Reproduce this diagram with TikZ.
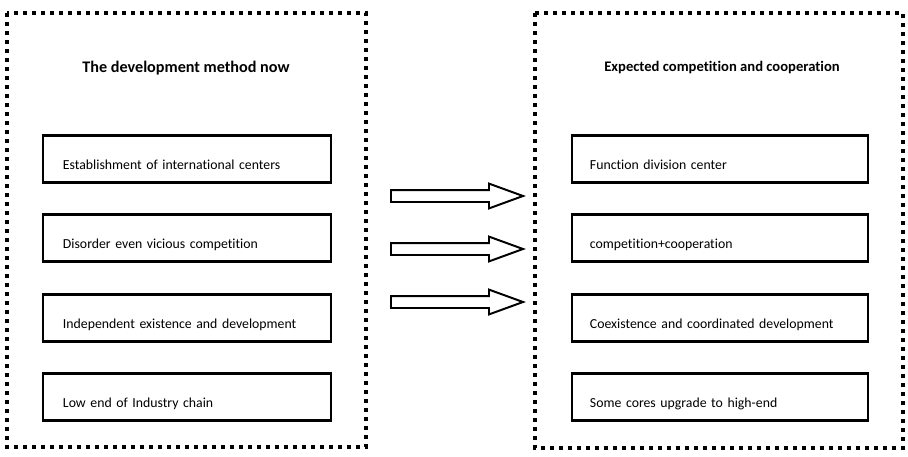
\documentclass[tikz,border=0pt]{standalone}
\usepackage{fontspec}
\setmainfont{Carlito}[Ligatures=NoCommon]
\usepackage{tikz}
\usetikzlibrary{arrows, positioning, shapes.arrows}
\tikzset{>=stealth}
\tikzset{
  frame/.style={line width=2.8pt, dash pattern=on 3pt off 3.4pt},
  itemL/.style={draw, line width=2pt, inner xsep=0.5cm, text width=6.2cm, align=left,
    minimum height=1.175cm, text height=15pt, text depth=0pt, font=\fontsize{9.8}{12}\selectfont},
  itemR/.style={itemL, inner xsep=0.45cm, text width=6.5cm},
  hollow/.style={draw, line width=1.4pt, single arrow, single arrow head extend=0.16cm,
    single arrow tip angle=40, inner xsep=0pt, inner ysep=0.125cm, minimum height=3.3cm}
}

\begin{document}
\begin{tikzpicture}[x=0.025cm, y=-0.025cm]
	\useasboundingbox (0,0) rectangle (908,456);
	\draw [frame] (7,13) rectangle (366,447);
	\draw [frame] (535,13) rectangle (903,448);
	\node (TL) at (186,68) {\fontsize{11.5}{13}\selectfont\bfseries The development method now};
	\node (TR) at (722,68) {\fontsize{10.4}{12}\selectfont\bfseries Expected competition and cooperation};
	\node [itemL] (L1) at (187,159) {Establishment of international centers};
	\node [itemL] (L2) at (187,238) {Disorder even vicious competition};
	\node [itemL] (L3) at (187,318) {Independent existence and development};
	\node [itemL] (L4) at (187,397) {Low end of Industry chain};
	\node [itemR] (R1) at (720,159) {Function division center};
	\node [itemR] (R2) at (720,238) {competition+cooperation};
	\node [itemR] (R3) at (720,318) {Coexistence and coordinated development};
	\node [itemR] (R4) at (720,397) {Some cores upgrade to high-end};
	\node [hollow, anchor=tail] (A1) at (390,196) {};
	\node [hollow, anchor=tail] (A2) at (390,249) {};
	\node [hollow, anchor=tail] (A3) at (390,302) {};
\end{tikzpicture}
\end{document}
